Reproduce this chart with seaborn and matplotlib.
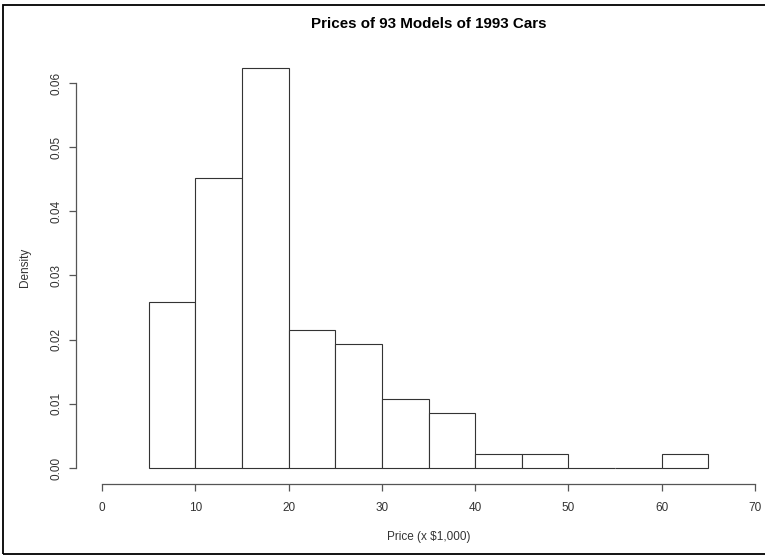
import matplotlib
matplotlib.use("Agg")
import matplotlib.pyplot as plt
import seaborn as sns
import numpy as np
from matplotlib.patches import Rectangle

# Price bins ($1,000) and number of models falling in each bin
bin_edges = [5, 10, 15, 20, 25, 30, 35, 40, 45, 50, 55, 60, 65]
bin_counts = [12, 21, 29, 10, 9, 5, 4, 1, 1, 0, 0, 1]
x_ticks = [0, 10, 20, 30, 40, 50, 60, 70]
y_ticks = [0.00, 0.01, 0.02, 0.03, 0.04, 0.05, 0.06]

bin_mids = [(a + b) / 2 for a, b in zip(bin_edges[:-1], bin_edges[1:])]

sns.set_style("white")
plt.rcParams["font.family"] = ["Liberation Sans", "DejaVu Sans"]

W, H = 765, 557
fig = plt.figure(figsize=(W / 100, H / 100), dpi=100)

# plot region in pixels (left, right, top, bottom)
px_l, px_r, px_t, px_b = 76, 781, 51.6, 484
ax = fig.add_axes([px_l / W, 1 - px_b / H, (px_r - px_l) / W, (px_b - px_t) / H])

sns.histplot(x=bin_mids, weights=bin_counts, bins=bin_edges, stat="density",
             color="white", edgecolor="#333333", linewidth=0.8, alpha=1,
             ax=ax)

ax.set_xlim(-2.8, 72.8)
ax.set_ylim(-0.0025, 0.0649)

for s in ["top", "right"]:
    ax.spines[s].set_visible(False)
for s in ["left", "bottom"]:
    ax.spines[s].set_color("#555555")
    ax.spines[s].set_linewidth(0.9)
ax.spines["bottom"].set_bounds(0, 70)
ax.spines["left"].set_bounds(0, 0.06)

ax.set_xticks(x_ticks)
ax.set_xticklabels([str(t) for t in x_ticks])
ax.set_yticks(y_ticks)
ax.set_yticklabels([f"{t:.2f}" for t in y_ticks], rotation=90, va="center")
ax.tick_params(axis="both", length=5, width=0.9, color="#555555",
               labelcolor="#333333", labelsize=8.5, direction="out")
ax.tick_params(axis="x", pad=8, bottom=True)
ax.tick_params(axis="y", pad=5, left=True)

ax.set_xlabel("Price (x $1,000)", fontsize=8.5, color="#333333", labelpad=12)
ax.set_ylabel("Density", fontsize=8.5, color="#333333", labelpad=14)
ax.set_title("Prices of 93 Models of 1993 Cars", fontsize=10.9,
             fontweight="bold", color="black", pad=17)

# frame around the whole device region (its right side runs past the image)
fig.patches.append(Rectangle((3 / W, 1 - 554 / H), 820 / W, 549 / H,
                             transform=fig.transFigure, fill=False,
                             edgecolor="black", linewidth=1.3))

fig.savefig("out.png", dpi=100)
